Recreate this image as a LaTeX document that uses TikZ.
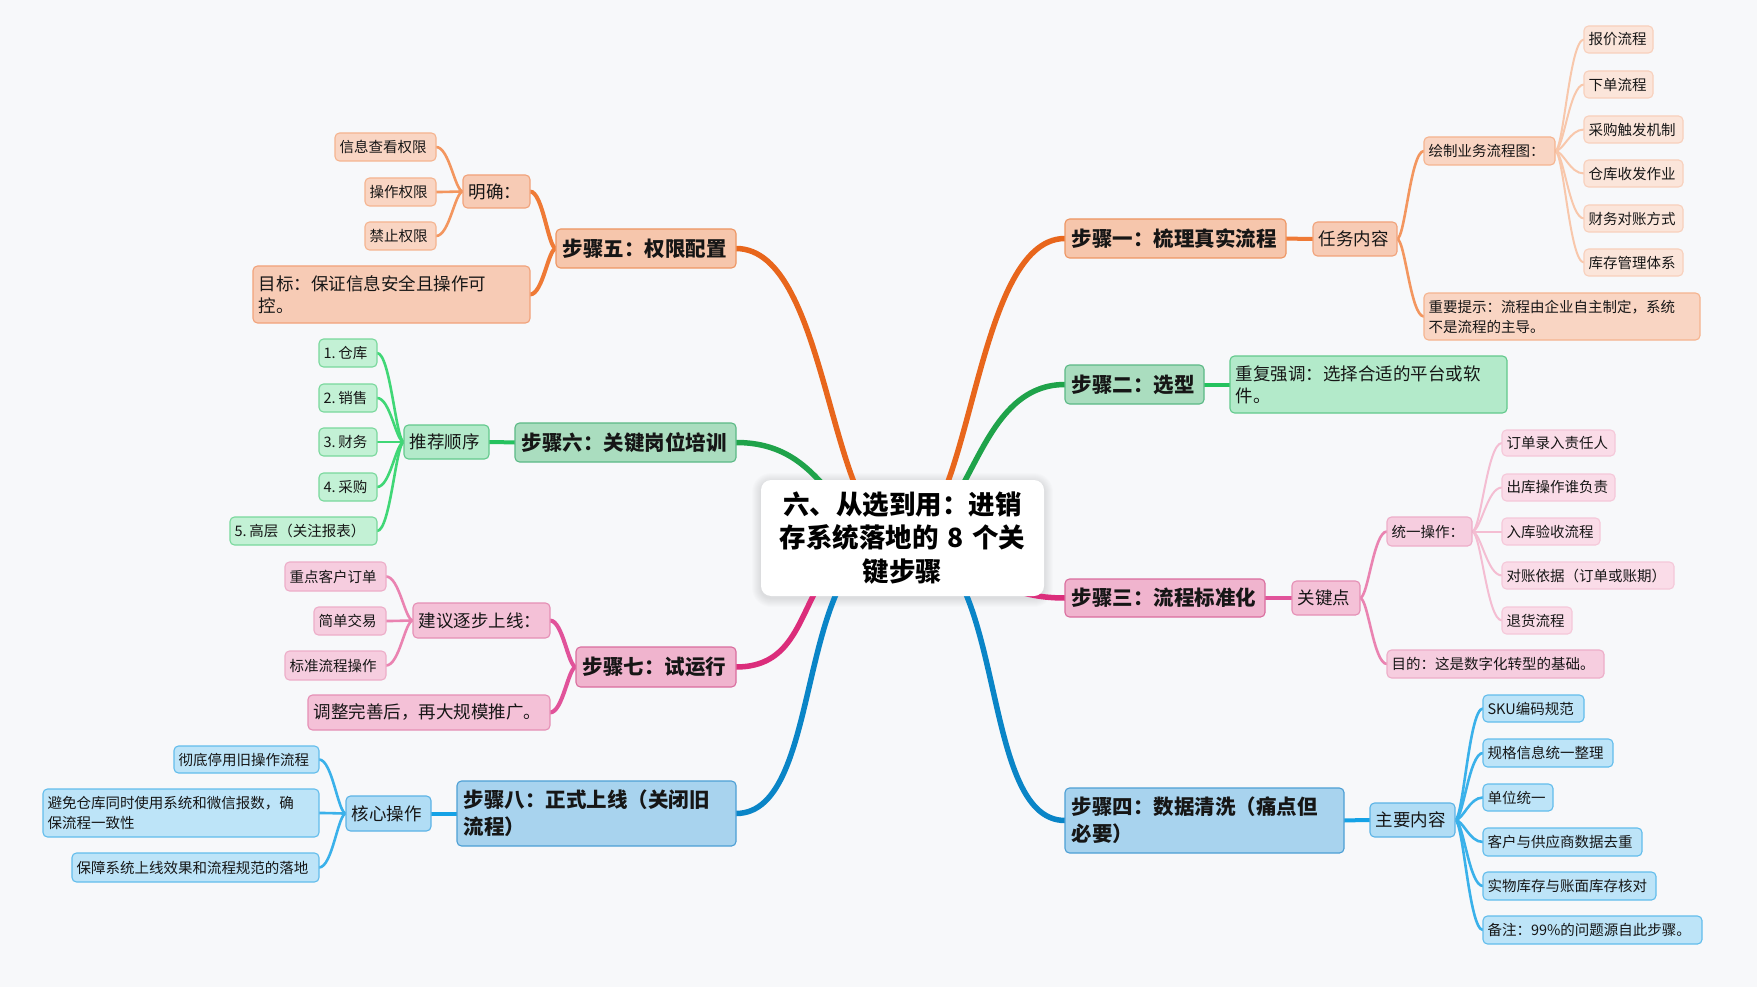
\documentclass[tikz,border=0pt]{standalone}
\usepackage{fontspec}
\setmainfont{Noto Sans CJK SC}
\usetikzlibrary{calc}
\pgfdeclarelayer{back}
\pgfdeclarelayer{lines}
\pgfsetlayers{back,lines,main}

\definecolor{bgc}{HTML}{F7F8FA}
\definecolor{txt}{HTML}{161616}
% orange
\definecolor{oL}{HTML}{E8661C}
\definecolor{oc2}{HTML}{EF7A36}
\definecolor{oc3}{HTML}{F3965F}
\definecolor{oc4}{HTML}{F8C7AB}
\definecolor{of1}{HTML}{F6C6AC}\definecolor{od1}{HTML}{EE9562}
\definecolor{of2}{HTML}{F7CBB5}\definecolor{od2}{HTML}{F1A27A}
\definecolor{of3}{HTML}{F9D5C3}\definecolor{od3}{HTML}{F5B48F}
\definecolor{of4}{HTML}{FBE5DA}\definecolor{od4}{HTML}{F8D0BC}
% green
\definecolor{gL}{HTML}{1FA34A}
\definecolor{gc2}{HTML}{25C25E}
\definecolor{gc3}{HTML}{40D776}
\definecolor{gf1}{HTML}{AADDBF}\definecolor{gd1}{HTML}{5BB985}
\definecolor{gf2}{HTML}{B3EACA}\definecolor{gd2}{HTML}{62C98C}
\definecolor{gf3}{HTML}{C3F1D5}\definecolor{gd3}{HTML}{79D89C}
% pink
\definecolor{pL}{HTML}{DB2D7B}
\definecolor{pc2}{HTML}{E1539A}
\definecolor{pc3}{HTML}{EA83B1}
\definecolor{pc4}{HTML}{F4BDD2}
\definecolor{pf1}{HTML}{F0B4CE}\definecolor{pd1}{HTML}{DA6D9E}
\definecolor{pf2}{HTML}{F4C1D7}\definecolor{pd2}{HTML}{E58FB5}
\definecolor{pf3}{HTML}{F6CDDF}\definecolor{pd3}{HTML}{EDADC8}
\definecolor{pf4}{HTML}{FADCE8}\definecolor{pd4}{HTML}{F5C8D9}
% blue
\definecolor{bL}{HTML}{0A85C7}
\definecolor{bc2}{HTML}{15A2E6}
\definecolor{bc3}{HTML}{3AB1EA}
\definecolor{bf1}{HTML}{A8D3EE}\definecolor{bd1}{HTML}{4C9FD5}
\definecolor{bf2}{HTML}{B1DDF5}\definecolor{bd2}{HTML}{5BB3E6}
\definecolor{bf3}{HTML}{BDE4F8}\definecolor{bd3}{HTML}{62BDEC}

\tikzset{
  base/.style={draw, rounded corners=4.5pt, line width=1.1pt, outer sep=0pt,
    inner ysep=1pt, align=left, text=txt},
  lv1/.style={base, font=\fontsize{20.5}{27}\selectfont\bfseries},
  lv2/.style={base, font=\fontsize{17.5}{22}\selectfont},
  lv3/.style={base, font=\fontsize{14.5}{20}\selectfont},
  o1/.style={lv1, fill=of1, draw=od1},
  o2/.style={lv2, fill=of2, draw=od2},
  o3/.style={lv3, fill=of3, draw=od3},
  o4/.style={lv3, fill=of4, draw=od4},
  g1/.style={lv1, fill=gf1, draw=gd1},
  g2/.style={lv2, fill=gf2, draw=gd2},
  g3/.style={lv3, fill=gf3, draw=gd3},
  p1/.style={lv1, fill=pf1, draw=pd1},
  p2/.style={lv2, fill=pf2, draw=pd2},
  p3/.style={lv3, fill=pf3, draw=pd3},
  p4/.style={lv3, fill=pf4, draw=pd4},
  b1/.style={lv1, fill=bf1, draw=bd1},
  b2/.style={lv2, fill=bf2, draw=bd2},
  b3/.style={lv3, fill=bf3, draw=bd3},
  rootbox/.style={fill=white, rounded corners=10pt, outer sep=0pt, inner sep=0pt,
    align=center, text=black, font=\fontsize{26.5}{33.5}\selectfont\bfseries},
  cv/.style 2 args={to path={let \p1=(\tikztostart), \p2=(\tikztotarget) in
    .. controls ({\x1+#1*(\x2-\x1)},\y1) and ({\x1+#2*(\x2-\x1)},\y2) .. (\tikztotarget)}},
  mb/.style={line width=5.5pt, line cap=round},
  w2/.style={line width=4pt, line cap=round},
  w3/.style={line width=2.6pt, line cap=round},
  w4/.style={line width=2pt, line cap=round},
}

\newcommand\mkbox[8]{%
  \pgfmathsetmacro\bw{#6-#4}%
  \pgfmathsetmacro\bh{#7-#5}%
  \pgfmathsetmacro\btw{#6-#4-2*#2}%
  \node[#1, anchor=north west, inner xsep=#2pt, minimum width=\bw pt,
        minimum height=\bh pt, text width=\btw pt] (#3) at (#4,#5) {#8};}

\begin{document}
\begin{tikzpicture}[x=1pt,y=-1pt]
\useasboundingbox (0,0) rectangle (1757,987);
\begin{pgfonlayer}{back}
\fill[bgc] (0,0) rectangle (1757,987);
\end{pgfonlayer}

% root
\node[rootbox, minimum width=283pt, minimum height=116pt, text width=275pt] (c) at (902.5,538)
  {六、从选到用：进销\\存系统落地的 8 个关\\键步骤};

% ---------- right side ----------
\mkbox{o1}{6.5}{s1}{1065}{219}{1286}{258}{步骤一：梳理真实流程}
\mkbox{o2}{5.5}{t1}{1313}{222}{1397}{256}{任务内容}
\mkbox{o3}{4.5}{t1a}{1424}{137}{1555}{165}{绘制业务流程图：}
\mkbox{o4}{4.5}{l11}{1584}{26}{1653}{53}{报价流程}
\mkbox{o4}{4.5}{l12}{1584}{71}{1653}{98}{下单流程}
\mkbox{o4}{4.5}{l13}{1584}{116}{1683}{143}{采购触发机制}
\mkbox{o4}{4.5}{l14}{1584}{160}{1683}{187}{仓库收发作业}
\mkbox{o4}{4.5}{l15}{1584}{205}{1683}{232}{财务对账方式}
\mkbox{o4}{4.5}{l16}{1584}{249}{1683}{276}{库存管理体系}
\mkbox{o3}{4.5}{t1b}{1424}{293}{1700}{340}{重要提示：流程由企业自主制定，系统\\不是流程的主导。}

\mkbox{g1}{6.5}{s2}{1065}{365}{1204}{404}{步骤二：选型}
\mkbox{g2}{5.5}{t2}{1230}{356}{1507}{413}{重复强调：选择合适的平台或软\\件。}

\mkbox{p1}{6.5}{s3}{1065}{579}{1265}{617}{步骤三：流程标准化}
\mkbox{p2}{5.5}{t3}{1292}{581}{1360}{615}{关键点}
\mkbox{p3}{4.5}{t3a}{1387}{517}{1472}{546}{统一操作：}
\mkbox{p4}{4.5}{l31}{1502}{430}{1615}{456}{订单录入责任人}
\mkbox{p4}{4.5}{l32}{1502}{474}{1615}{501}{出库操作谁负责}
\mkbox{p4}{4.5}{l33}{1502}{518}{1600}{545}{入库验收流程}
\mkbox{p4}{4.5}{l34}{1502}{562}{1674}{589}{对账依据（订单或账期）}
\mkbox{p4}{4.5}{l35}{1502}{607}{1572}{634}{退货流程}
\mkbox{p3}{4.5}{t3b}{1387}{650}{1604}{678}{目的：这是数字化转型的基础。}

\mkbox{b1}{6.5}{s4}{1065}{788}{1344}{853}{步骤四：数据清洗（痛点但\\必要）}
\mkbox{b2}{5.5}{t4}{1370}{803}{1455}{837}{主要内容}
\mkbox{b3}{4.5}{l41}{1483}{695}{1584}{722}{SKU编码规范}
\mkbox{b3}{4.5}{l42}{1483}{739}{1613}{767}{规格信息统一整理}
\mkbox{b3}{4.5}{l43}{1483}{784}{1553}{811}{单位统一}
\mkbox{b3}{4.5}{l44}{1483}{828}{1642}{856}{客户与供应商数据去重}
\mkbox{b3}{4.5}{l45}{1483}{872}{1656}{900}{实物库存与账面库存核对}
\mkbox{b3}{4.5}{l46}{1483}{916}{1702}{944}{备注：99\%的问题源自此步骤。}

% ---------- left side ----------
\mkbox{o1}{6.5}{s5}{556}{229}{736}{268}{步骤五：权限配置}
\mkbox{o2}{5.5}{t5a}{463}{175}{530}{208}{明确：}
\mkbox{o3}{4.5}{l51}{335}{133}{436}{161}{信息查看权限}
\mkbox{o3}{4.5}{l52}{365}{178}{436}{206}{操作权限}
\mkbox{o3}{4.5}{l53}{365}{222}{436}{250}{禁止权限}
\mkbox{o2}{5.5}{t5b}{253}{266}{530}{323}{目标：保证信息安全且操作可\\控。}

\mkbox{g1}{6.5}{s6}{515}{423}{736}{462}{步骤六：关键岗位培训}
\mkbox{g2}{5.5}{t6}{404}{425}{489}{459}{推荐顺序}
\mkbox{g3}{4.5}{l61}{319}{339}{377}{367}{1.\hspace{0.2em}仓库}
\mkbox{g3}{4.5}{l62}{319}{384}{377}{412}{2.\hspace{0.2em}销售}
\mkbox{g3}{4.5}{l63}{319}{428}{377}{456}{3.\hspace{0.2em}财务}
\mkbox{g3}{4.5}{l64}{319}{473}{377}{501}{4.\hspace{0.2em}采购}
\mkbox{g3}{4.5}{l65}{230}{517}{377}{545}{5.\hspace{0.2em}高层（关注报表）}

\mkbox{p1}{6.5}{s7}{576}{647}{736}{687}{步骤七：试运行}
\mkbox{p2}{5.5}{t7a}{413}{603}{550}{638}{建议逐步上线：}
\mkbox{p3}{4.5}{l71}{285}{562}{386}{591}{重点客户订单}
\mkbox{p3}{4.5}{l72}{314}{607}{386}{635}{简单交易}
\mkbox{p3}{4.5}{l73}{285}{651}{386}{680}{标准流程操作}
\mkbox{p2}{5.5}{t7b}{308}{695}{550}{730}{调整完善后，再大规模推广。}

\mkbox{b1}{6.5}{s8}{457}{781}{736}{846}{步骤八：正式上线（关闭旧\\流程）}
\mkbox{b2}{5.5}{t8}{346}{796}{431}{831}{核心操作}
\mkbox{b3}{4.5}{l81}{174}{746}{319}{773}{彻底停用旧操作流程}
\mkbox{b3}{4.5}{l82}{43}{789}{319}{837}{避免仓库同时使用系统和微信报数，确\\保流程一致性}
\mkbox{b3}{4.5}{l83}{72}{853}{319}{882}{保障系统上线效果和流程规范的落地}

% shadow of root
\begin{pgfonlayer}{back}
\foreach \k in {1,...,9}
  \fill[black, opacity=0.012, rounded corners={(10+\k)*1pt}]
    ($(c.south west)+(-\k,\k+2)$) rectangle ($(c.north east)+(\k,-\k+2)$);
\end{pgfonlayer}

% ---------- connectors ----------
\begin{pgfonlayer}{lines}
\draw[mb, oL] (c.center) to[cv={.43}{.43}] (s1.west);
\draw[mb, gL] (c.center) to[cv={.43}{.43}] (s2.west);
\draw[mb, pL] (c.center) to[cv={.45}{.43}] (s3.west);
\draw[mb, bL] (c.center) to[cv={.66}{.45}] (s4.west);
\draw[mb, oL] (c.center) to[cv={.45}{.43}] (s5.east);
\draw[mb, gL] (c.center) to[cv={.43}{.43}] (s6.east);
\draw[mb, pL] (c.center) to[cv={.7}{.45}] (s7.east);
\draw[mb, bL] (c.center) to[cv={.67}{.45}] (s8.east);

% step 1
\draw[w2, oc2] (s1.east) to[cv={.3}{.5}] (t1.west);
\foreach \nm in {t1a,t1b} \draw[w3, oc3] (t1.east) to[cv={.3}{.5}] (\nm.west);
\foreach \nm in {l11,l12,l13,l14,l15,l16} \draw[w4, oc4] (t1a.east) to[cv={.3}{.5}] (\nm.west);
% step 2
\draw[w2, gc2] (s2.east) to[cv={.3}{.5}] (t2.west);
% step 3
\draw[w2, pc2] (s3.east) to[cv={.3}{.5}] (t3.west);
\foreach \nm in {t3a,t3b} \draw[w3, pc3] (t3.east) to[cv={.3}{.5}] (\nm.west);
\foreach \nm in {l31,l32,l33,l34,l35} \draw[w4, pc4] (t3a.east) to[cv={.3}{.5}] (\nm.west);
% step 4
\draw[w2, bc2] (s4.east) to[cv={.3}{.5}] (t4.west);
\foreach \nm in {l41,l42,l43,l44,l45,l46} \draw[w3, bc3] (t4.east) to[cv={.3}{.5}] (\nm.west);
% step 5
\foreach \nm in {t5a,t5b} \draw[w2, oc2] (s5.west) to[cv={.3}{.5}] (\nm.east);
\foreach \nm in {l51,l52,l53} \draw[w3, oc3] (t5a.west) to[cv={.3}{.5}] (\nm.east);
% step 6
\draw[w2, gc2] (s6.west) to[cv={.3}{.5}] (t6.east);
\foreach \nm in {l61,l62,l63,l64,l65} \draw[w3, gc3] (t6.west) to[cv={.3}{.5}] (\nm.east);
% step 7
\foreach \nm in {t7a,t7b} \draw[w2, pc2] (s7.west) to[cv={.3}{.5}] (\nm.east);
\foreach \nm in {l71,l72,l73} \draw[w3, pc3] (t7a.west) to[cv={.3}{.5}] (\nm.east);
% step 8
\draw[w2, bc2] (s8.west) to[cv={.3}{.5}] (t8.east);
\foreach \nm in {l81,l82,l83} \draw[w3, bc3] (t8.west) to[cv={.3}{.5}] (\nm.east);
\end{pgfonlayer}
\end{tikzpicture}
\end{document}
